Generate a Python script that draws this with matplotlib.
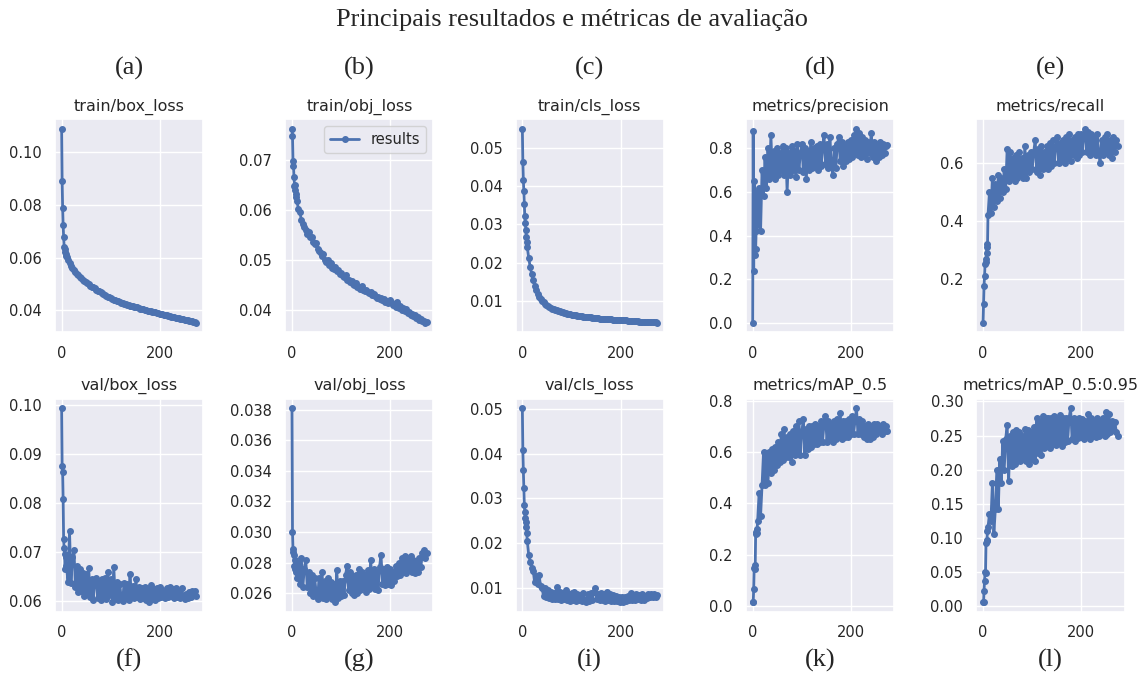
import matplotlib
matplotlib.use("Agg")
import matplotlib.pyplot as plt
import seaborn as sns

# epochs: every epoch at the start, then every third one
epochs = list(range(10)) + list(range(10, 275, 3))

train_box_loss = [
    0.109, 0.089, 0.079, 0.0725, 0.068, 0.0642, 0.0632, 0.0622, 0.0615, 0.0608,
    0.0603, 0.0590, 0.0580, 0.0568, 0.0560, 0.0552, 0.0545, 0.0539, 0.0533, 0.0526,
    0.0521, 0.0516, 0.0511, 0.0507, 0.0503, 0.0499, 0.0494, 0.0490, 0.0487, 0.0483,
    0.0479, 0.0475, 0.0472, 0.0469, 0.0465, 0.0462, 0.0459, 0.0456, 0.0452, 0.0449,
    0.0445, 0.0443, 0.0441, 0.0438, 0.0436, 0.0434, 0.0431, 0.0429, 0.0427, 0.0425,
    0.0423, 0.0422, 0.0420, 0.0418, 0.0417, 0.0415, 0.0414, 0.0412, 0.0411, 0.0409,
    0.0407, 0.0406, 0.0404, 0.0402, 0.0401, 0.0399, 0.0398, 0.0396, 0.0395, 0.0393,
    0.0392, 0.0390, 0.0389, 0.0387, 0.0386, 0.0385, 0.0383, 0.0382, 0.0381, 0.0379,
    0.0378, 0.0376, 0.0375, 0.0374, 0.0372, 0.0371, 0.0370, 0.0368, 0.0367, 0.0366,
    0.0365, 0.0363, 0.0362, 0.0361, 0.0360, 0.0358, 0.0357, 0.0356, 0.0353,
]
train_obj_loss = [
    0.0762, 0.0748, 0.0698, 0.0688, 0.0665, 0.0648, 0.0650, 0.0640, 0.0632, 0.0625,
    0.0618, 0.0602, 0.0596, 0.0580, 0.0572, 0.0565, 0.0560, 0.0552, 0.0555, 0.0546,
    0.0545, 0.0536, 0.0532, 0.0535, 0.0522, 0.0518, 0.0514, 0.0508, 0.0512, 0.0500,
    0.0497, 0.0500, 0.0490, 0.0494, 0.0485, 0.0483, 0.0487, 0.0478, 0.0480, 0.0472,
    0.0475, 0.0468, 0.0466, 0.0470, 0.0461, 0.0460, 0.0456, 0.0459, 0.0452, 0.0451,
    0.0455, 0.0447, 0.0446, 0.0443, 0.0448, 0.0440, 0.0438, 0.0441, 0.0436, 0.0434,
    0.0437, 0.0430, 0.0432, 0.0428, 0.0425, 0.0427, 0.0422, 0.0424, 0.0420, 0.0423,
    0.0416, 0.0419, 0.0414, 0.0421, 0.0417, 0.0411, 0.0413, 0.0406, 0.0416, 0.0404,
    0.0408, 0.0400, 0.0405, 0.0398, 0.0402, 0.0395, 0.0397, 0.0390, 0.0393, 0.0388,
    0.0390, 0.0385, 0.0387, 0.0381, 0.0383, 0.0378, 0.0379, 0.0375, 0.0376,
]
train_cls_loss = [
    0.0550, 0.0463, 0.0416, 0.0387, 0.0352, 0.0321, 0.0304, 0.0286, 0.0267, 0.0254,
    0.0240, 0.0212, 0.0188, 0.0170, 0.0155, 0.0140, 0.0128, 0.0118, 0.0111, 0.0105,
    0.0100, 0.0096, 0.0092, 0.0089, 0.0086, 0.0084, 0.0082, 0.0080, 0.0078, 0.0077,
    0.0075, 0.0074, 0.0073, 0.0071, 0.0070, 0.0069, 0.0068, 0.0067, 0.0066, 0.0065,
    0.0064, 0.0064, 0.0063, 0.0062, 0.0061, 0.0061, 0.0060, 0.0060, 0.0059, 0.0059,
    0.0058, 0.0058, 0.0057, 0.0057, 0.0056, 0.0056, 0.0056, 0.0055, 0.0055, 0.0054,
    0.0054, 0.0054, 0.0053, 0.0053, 0.0053, 0.0052, 0.0052, 0.0052, 0.0051, 0.0051,
    0.0051, 0.0050, 0.0050, 0.0050, 0.0050, 0.0049, 0.0049, 0.0049, 0.0048, 0.0048,
    0.0048, 0.0048, 0.0047, 0.0047, 0.0047, 0.0047, 0.0046, 0.0046, 0.0046, 0.0046,
    0.0045, 0.0045, 0.0045, 0.0045, 0.0044, 0.0044, 0.0044, 0.0044, 0.0043,
]
precision = [
    0.001, 0.88, 0.24, 0.65, 0.31, 0.52, 0.34, 0.42, 0.60, 0.45,
    0.46, 0.62, 0.42, 0.70, 0.58, 0.76, 0.62, 0.80, 0.66, 0.86,
    0.68, 0.79, 0.66, 0.80, 0.68, 0.78, 0.70, 0.81, 0.68, 0.80,
    0.60, 0.78, 0.68, 0.81, 0.70, 0.79, 0.67, 0.82, 0.70, 0.78,
    0.82, 0.69, 0.80, 0.66, 0.79, 0.70, 0.83, 0.71, 0.80, 0.72,
    0.81, 0.70, 0.82, 0.72, 0.80, 0.86, 0.73, 0.82, 0.71, 0.85,
    0.73, 0.68, 0.80, 0.71, 0.82, 0.85, 0.74, 0.83, 0.72, 0.81,
    0.74, 0.83, 0.75, 0.84, 0.76, 0.86, 0.78, 0.89, 0.77, 0.87,
    0.76, 0.85, 0.77, 0.84, 0.75, 0.83, 0.78, 0.87, 0.76, 0.83,
    0.74, 0.82, 0.76, 0.83, 0.77, 0.82, 0.78, 0.81, 0.815,
]
recall = [
    0.049, 0.113, 0.177, 0.21, 0.252, 0.27, 0.26, 0.29, 0.322, 0.31,
    0.42, 0.50, 0.43, 0.55, 0.45, 0.53, 0.47, 0.56, 0.48, 0.55,
    0.50, 0.58, 0.51, 0.65, 0.54, 0.64, 0.55, 0.62, 0.54, 0.63,
    0.55, 0.64, 0.56, 0.62, 0.55, 0.66, 0.55, 0.63, 0.57, 0.64,
    0.58, 0.64, 0.68, 0.57, 0.65, 0.56, 0.66, 0.58, 0.64, 0.59,
    0.66, 0.58, 0.67, 0.59, 0.68, 0.60, 0.66, 0.69, 0.60, 0.67,
    0.61, 0.68, 0.60, 0.69, 0.62, 0.70, 0.61, 0.68, 0.63, 0.69,
    0.62, 0.70, 0.63, 0.70, 0.64, 0.69, 0.72, 0.64, 0.71, 0.63,
    0.70, 0.64, 0.69, 0.63, 0.70, 0.64, 0.60, 0.68, 0.63, 0.69,
    0.64, 0.70, 0.63, 0.68, 0.62, 0.69, 0.64, 0.68, 0.66,
]
val_box_loss = [
    0.0993, 0.0876, 0.0863, 0.0808, 0.0727, 0.0708, 0.0697, 0.0665, 0.0690, 0.0672,
    0.0668, 0.0640, 0.0743, 0.0638, 0.0690, 0.0705, 0.0630, 0.0672, 0.0618, 0.0665,
    0.0622, 0.0658, 0.0610, 0.0655, 0.0615, 0.0668, 0.0608, 0.0645, 0.0603, 0.0640,
    0.0648, 0.0606, 0.0642, 0.0602, 0.0645, 0.0610, 0.0648, 0.0605, 0.0660, 0.0612,
    0.0645, 0.0598, 0.0670, 0.0606, 0.0640, 0.0602, 0.0636, 0.0608, 0.0600, 0.0638,
    0.0606, 0.0635, 0.0603, 0.0655, 0.0610, 0.0632, 0.0606, 0.0645, 0.0608, 0.0630,
    0.0604, 0.0628, 0.0606, 0.0630, 0.0602, 0.0626, 0.0598, 0.0634, 0.0605, 0.0625,
    0.0603, 0.0628, 0.0606, 0.0630, 0.0608, 0.0624, 0.0610, 0.0606, 0.0628, 0.0608,
    0.0630, 0.0610, 0.0626, 0.0606, 0.0628, 0.0608, 0.0622, 0.0606, 0.0628, 0.0610,
    0.0604, 0.0615, 0.0606, 0.0618, 0.0608, 0.0622, 0.0612, 0.0622, 0.0610,
]
val_obj_loss = [
    0.0381, 0.0300, 0.0289, 0.0287, 0.0285, 0.0278, 0.0282, 0.0276, 0.0280, 0.0274,
    0.0270, 0.0280, 0.0266, 0.0283, 0.0264, 0.0276, 0.0282, 0.0264, 0.0274, 0.0260,
    0.0272, 0.0258, 0.0270, 0.0261, 0.0256, 0.0270, 0.0259, 0.0274, 0.0257, 0.0268,
    0.0256, 0.0270, 0.0258, 0.0267, 0.0256, 0.0266, 0.0254, 0.0275, 0.0257, 0.0268,
    0.0258, 0.0268, 0.0259, 0.0272, 0.0278, 0.0262, 0.0274, 0.0260, 0.0271, 0.0259,
    0.0272, 0.0260, 0.0276, 0.0262, 0.0274, 0.0264, 0.0272, 0.0261, 0.0275, 0.0263,
    0.0282, 0.0264, 0.0276, 0.0263, 0.0274, 0.0262, 0.0277, 0.0285, 0.0266, 0.0276,
    0.0265, 0.0277, 0.0266, 0.0276, 0.0265, 0.0274, 0.0268, 0.0278, 0.0271, 0.0280,
    0.0272, 0.0283, 0.0274, 0.0284, 0.0273, 0.0283, 0.0275, 0.0284, 0.0274, 0.0282,
    0.0273, 0.0281, 0.0274, 0.0283, 0.0277, 0.0286, 0.0288, 0.0283, 0.0286,
]
val_cls_loss = [
    0.0502, 0.0408, 0.0363, 0.0323, 0.0285, 0.0270, 0.0255, 0.0248, 0.0235, 0.0222,
    0.0205, 0.0172, 0.0158, 0.0145, 0.0138, 0.0112, 0.0126, 0.0108, 0.0128, 0.0104,
    0.0098, 0.0082, 0.0100, 0.0078, 0.0094, 0.0076, 0.0090, 0.0075, 0.0088, 0.0074,
    0.0102, 0.0075, 0.0090, 0.0072, 0.0088, 0.0074, 0.0094, 0.0072, 0.0086, 0.0070,
    0.0088, 0.0072, 0.0090, 0.0070, 0.0086, 0.0073, 0.0084, 0.0069, 0.0088, 0.0072,
    0.0068, 0.0086, 0.0071, 0.0088, 0.0072, 0.0090, 0.0099, 0.0074, 0.0086, 0.0072,
    0.0088, 0.0072, 0.0086, 0.0071, 0.0090, 0.0072, 0.0085, 0.0070, 0.0084, 0.0071,
    0.0082, 0.0070, 0.0080, 0.0067, 0.0078, 0.0068, 0.0080, 0.0070, 0.0082, 0.0072,
    0.0088, 0.0073, 0.0084, 0.0072, 0.0086, 0.0074, 0.0084, 0.0073, 0.0085, 0.0072,
    0.0082, 0.0076, 0.0086, 0.0078, 0.0085, 0.0079, 0.0086, 0.0080, 0.0084,
]
map_50 = [
    0.015, 0.015, 0.065, 0.15, 0.16, 0.145, 0.28, 0.29, 0.285, 0.30,
    0.33, 0.44, 0.35, 0.47, 0.60, 0.47, 0.59, 0.48, 0.60, 0.52,
    0.61, 0.53, 0.62, 0.55, 0.64, 0.56, 0.67, 0.57, 0.69, 0.58,
    0.66, 0.58, 0.67, 0.56, 0.68, 0.59, 0.70, 0.60, 0.72, 0.59,
    0.68, 0.73, 0.59, 0.69, 0.61, 0.70, 0.62, 0.70, 0.63, 0.71,
    0.63, 0.70, 0.64, 0.72, 0.64, 0.71, 0.74, 0.64, 0.72, 0.65,
    0.71, 0.64, 0.72, 0.65, 0.73, 0.66, 0.75, 0.65, 0.72, 0.66,
    0.72, 0.66, 0.73, 0.67, 0.74, 0.67, 0.72, 0.77, 0.67, 0.73,
    0.67, 0.72, 0.66, 0.70, 0.65, 0.71, 0.65, 0.70, 0.66, 0.71,
    0.67, 0.71, 0.68, 0.70, 0.67, 0.71, 0.68, 0.70, 0.68,
]
map_50_95 = [
    0.005, 0.005, 0.022, 0.037, 0.049, 0.048, 0.092, 0.095, 0.097, 0.110,
    0.115, 0.135, 0.125, 0.180, 0.106, 0.142, 0.200, 0.142, 0.215, 0.180,
    0.242, 0.200, 0.245, 0.265, 0.183, 0.250, 0.205, 0.255, 0.208, 0.258,
    0.215, 0.255, 0.212, 0.250, 0.215, 0.260, 0.212, 0.258, 0.208, 0.255,
    0.215, 0.262, 0.212, 0.275, 0.225, 0.270, 0.222, 0.278, 0.232, 0.275,
    0.235, 0.276, 0.232, 0.275, 0.238, 0.278, 0.236, 0.274, 0.240, 0.280,
    0.235, 0.276, 0.240, 0.275, 0.242, 0.276, 0.290, 0.245, 0.275, 0.242,
    0.272, 0.246, 0.275, 0.248, 0.274, 0.245, 0.272, 0.250, 0.282, 0.245,
    0.275, 0.250, 0.272, 0.248, 0.275, 0.250, 0.270, 0.252, 0.276, 0.250,
    0.284, 0.252, 0.282, 0.255, 0.272, 0.258, 0.270, 0.255, 0.250,
]

series = [train_box_loss, train_obj_loss, train_cls_loss, precision, recall,
          val_box_loss, val_obj_loss, val_cls_loss, map_50, map_50_95]
titles = ["train/box_loss", "train/obj_loss", "train/cls_loss",
          "metrics/precision", "metrics/recall",
          "val/box_loss", "val/obj_loss", "val/cls_loss",
          "metrics/mAP_0.5", "metrics/mAP_0.5:0.95"]
letters = ["(a)", "(b)", "(c)", "(d)", "(e)", "(f)", "(g)", "(i)", "(k)", "(l)"]

sns.set_theme(style="darkgrid")
fig, axes = plt.subplots(2, 5, figsize=(11.44, 6.8), dpi=100)
fig.subplots_adjust(left=0.048, right=0.983, top=0.825, bottom=0.1,
                    wspace=0.554, hspace=0.31)

for i, ax in enumerate(axes.flat):
    ax.plot(epochs, series[i], marker=".", label="results",
            linewidth=2, markersize=8, color="#4c72b0")
    ax.set_title(titles[i], fontsize=11.5)
    ax.set_xticks([0, 200])
    ax.tick_params(labelsize=10.5)
    if i == 1:
        ax.legend(fontsize=10.5, loc="upper right")
    pos = ax.get_position()
    cx = (pos.x0 + pos.x1) / 2
    ly = 0.9 if i < 5 else 0.029
    fig.text(cx, ly, letters[i], ha="center", va="center",
             fontsize=19, family="Liberation Serif")

fig.text(0.5, 0.97, "Principais resultados e métricas de avaliação",
         ha="center", va="center", fontsize=19, family="Liberation Serif")

fig.savefig("out.png", dpi=100)
